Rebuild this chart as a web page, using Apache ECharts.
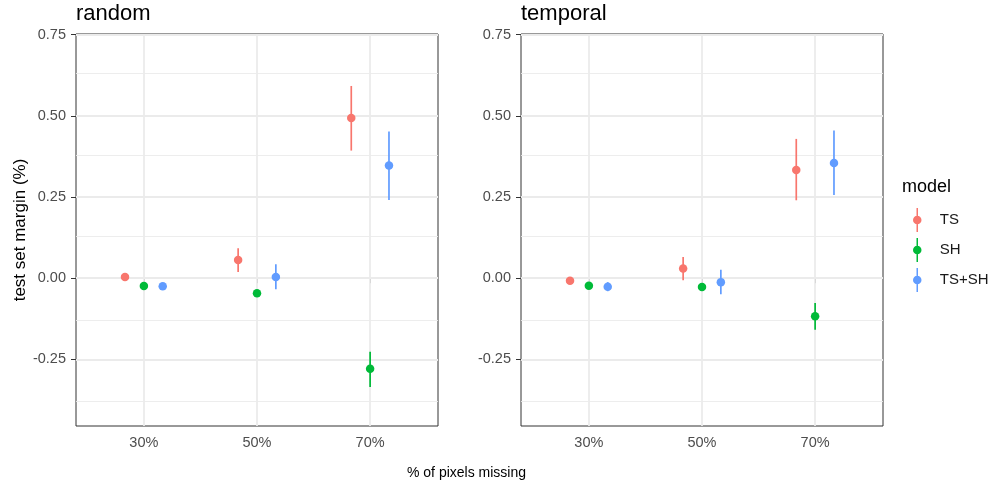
<!DOCTYPE html>
<html>
<head>
<meta charset="utf-8">
<script src="https://cdn.jsdelivr.net/npm/echarts@6/dist/echarts.min.js"></script>
<style>
  html, body { margin: 0; background: #fff; }
  #chart { width: 995px; height: 484px; }
</style>
</head>
<body>
<div id="chart"></div>
<script>
// facet 데이터 — [mean, low, high] per category
const categories = ["30%", "50%", "70%"];
const models = ["TS", "SH", "TS+SH"];
const panels = ["random", "temporal"];

const randomTS = [[0.004, -0.004, 0.012], [0.056, 0.019, 0.092], [0.493, 0.393, 0.592]];
const randomSH = [[-0.024, -0.032, -0.016], [-0.046, -0.054, -0.038], [-0.279, -0.335, -0.226]];
const randomTSSH = [[-0.025, -0.033, -0.017], [0.004, -0.034, 0.043], [0.347, 0.241, 0.452]];

const temporalTS = [[-0.008, -0.016, 0.0], [0.030, -0.006, 0.065], [0.333, 0.240, 0.429]];
const temporalSH = [[-0.023, -0.031, -0.015], [-0.027, -0.035, -0.019], [-0.117, -0.159, -0.076]];
const temporalTSSH = [[-0.026, -0.040, -0.012], [-0.012, -0.049, 0.026], [0.355, 0.256, 0.455]];

const yBreaks = [-0.25, 0, 0.25, 0.5, 0.75];
const yMinor = [-0.375, -0.125, 0.125, 0.375, 0.625];

const panelData = [
  [randomTS, randomSH, randomTSSH],
  [temporalTS, temporalSH, temporalTSSH],
];

const COLORS = ["#F8766D", "#00BA38", "#619CFF"];
const FONT = '"Liberation Sans", Arial, Helvetica, sans-serif';
const DODGE = [-1 / 6, 0, 1 / 6];
const Y_MIN = -0.455, Y_MAX = 0.752;
const GRIDS = [{ left: 76, top: 34, width: 362, height: 392 }, { left: 521, top: 34, width: 362, height: 392 }];

const KEY_ICON = "path://M3.5,0H5V24H3.5Z M8.5,12A4.25,4.25 0 1 1 0,12A4.25,4.25 0 1 1 8.5,12Z";

const tickLabel = { color: "#4D4D4D", fontSize: 14.5, fontFamily: FONT };
const tickLine = { color: "#333", width: 1 };

const xAxes = GRIDS.map((g, i) => ({
  type: "value", gridIndex: i, min: 0.4, max: 3.6,
  axisLine: { show: false },
  axisTick: { show: true, length: 5, customValues: [1, 2, 3], lineStyle: tickLine },
  axisLabel: { ...tickLabel, margin: 9, customValues: [1, 2, 3], formatter: (v) => categories[Math.round(v) - 1] },
  splitLine: { show: false },
}));

const yAxes = GRIDS.map((g, i) => ({
  type: "value", gridIndex: i, min: Y_MIN, max: Y_MAX,
  axisLine: { show: false },
  axisTick: { show: true, length: 5, customValues: yBreaks, lineStyle: tickLine },
  axisLabel: { ...tickLabel, margin: 10, customValues: yBreaks, formatter: (v) => v.toFixed(2) },
  splitLine: { show: false },
  name: i === 0 ? "test set margin (%)" : "",
  nameLocation: "middle", nameRotate: 90, nameGap: 47,
  nameTextStyle: { color: "#000", fontSize: 17, fontFamily: FONT },
}));

const series = [];
GRIDS.forEach((g, gi) => {
  // 배경 격자선 (점 아래에 깔림)
  const gl = (w) => ({ color: "#EBEBEB", type: "solid", width: w });
  series.push({
    type: "scatter", xAxisIndex: gi, yAxisIndex: gi, data: [], z: 1, silent: true,
    markLine: {
      z: 1, silent: true, symbol: "none", animation: false, label: { show: false },
      data: [
        ...yMinor.map((v) => ({ yAxis: v, lineStyle: gl(0.9) })),
        ...yBreaks.map((v) => ({ yAxis: v, lineStyle: gl(1.8) })),
        ...categories.map((c, i) => ({ xAxis: i + 1, lineStyle: gl(1.8) })),
      ],
    },
  });
  models.forEach((m, k) => {
    const rows = panelData[gi][k].map((d, i) => [i + 1 + DODGE[k], d[0], d[1], d[2]]);
    series.push({
      type: "custom", name: m, xAxisIndex: gi, yAxisIndex: gi, z: 3,
      encode: { x: 0, y: [1, 2, 3] },
      data: rows,
      itemStyle: { color: COLORS[k] },
      renderItem: (params, api) => {
        const x = api.value(0);
        const a = api.coord([x, api.value(2)]);
        const b = api.coord([x, api.value(3)]);
        return {
          type: "line",
          shape: { x1: a[0], y1: a[1], x2: b[0], y2: b[1] },
          style: { stroke: COLORS[k], lineWidth: 1.7 },
        };
      },
    });
    series.push({
      type: "scatter", name: m, xAxisIndex: gi, yAxisIndex: gi, z: 4,
      symbolSize: 8.5,
      data: rows.map((r) => [r[0], r[1]]),
      itemStyle: { color: COLORS[k], opacity: 1 },
    });
  });
});

const chart = echarts.init(document.getElementById("chart"), null, { renderer: "canvas" });
const titleText = (size) => ({ fontSize: size, fontWeight: "normal", color: "#000", fontFamily: FONT });
chart.setOption({
  animation: false,
  textStyle: { fontFamily: FONT },
  title: [
    ...panels.map((p, i) => ({ text: p, left: GRIDS[i].left, top: 3, padding: 0, textStyle: titleText(22) })),
    { text: "model", left: 902, top: 178, padding: 0, textStyle: titleText(18) },
    { text: "% of pixels missing", left: 407, top: 466, padding: 0, textStyle: titleText(14) },
  ],
  grid: GRIDS.map((g) => ({ ...g, show: true, borderColor: "#333", borderWidth: 1, backgroundColor: "#fff", containLabel: false })),
  xAxis: xAxes,
  yAxis: yAxes,
  legend: {
    orient: "vertical", left: 913, top: 208, padding: 0,
    itemWidth: 9, itemHeight: 24, itemGap: 6,
    data: models.map((m, k) => ({ name: m, icon: KEY_ICON, itemStyle: { color: COLORS[k] } })),
    textStyle: { fontSize: 15, color: "#1A1A1A", fontFamily: FONT, padding: [0, 0, 0, 13] },
    selectedMode: false,
  },
  series,
});
</script>
</body>
</html>
